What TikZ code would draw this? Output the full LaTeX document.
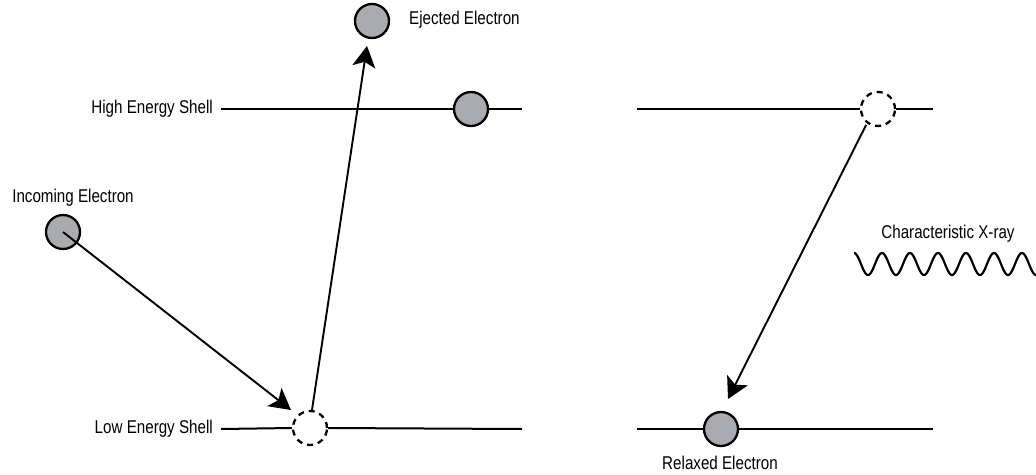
\documentclass[tikz,border=0pt]{standalone}
\usepackage{fontspec}
\setmainfont{Liberation Sans}
\newfontfamily\narrowsans[FakeStretch=0.82]{Liberation Sans}
\usetikzlibrary{arrows.meta}
\definecolor{electron}{RGB}{170,171,176}
\tikzset{
  particle/.style={circle, draw=black, line width=2.3pt, fill=electron, minimum size=34pt, inner sep=0pt},
  hole/.style={circle, draw=black, line width=2.3pt, dash pattern=on 6pt off 5pt, minimum size=34pt, inner sep=0pt},
  shell/.style={line width=2pt},
  jump/.style={line width=1.9pt, -{Stealth[length=21pt,width=23pt,inset=5pt]}},
  caption/.style={font=\narrowsans\fontsize{18.5}{22}\selectfont, inner sep=0pt},
  wave/.style={line width=2.2pt}
}
\begin{document}
\begin{tikzpicture}[x=1pt,y=-1pt]
  \useasboundingbox (0,0) rectangle (1036,474);

  % left panel: impact and ejection
  \node[particle] (incoming) at (63,232) {};
  \node[particle] (ejected) at (372,21) {};
  \node[particle] (highL) at (471,109) {};
  \node[hole] (holeL) at (310,428) {};

  \coordinate (highLstart) at (221,109);
  \coordinate (highLend) at (522,109);
  \coordinate (lowLstart) at (221,429);
  \coordinate (lowLend) at (522,429);

  \draw[shell] (highLstart) -- (highL.west);
  \draw[shell] (highL.east) -- (highLend);
  \draw[shell] (lowLstart) -- (holeL.west);
  \draw[shell] (holeL.east) -- (lowLend);

  \node[caption, anchor=east] (highLabel) at (213,109) {High Energy Shell};
  \node[caption, anchor=east] (lowLabel) at (213,429) {Low Energy Shell};
  \node[caption] (incomingLabel) at (73,198) {Incoming Electron};
  \node[caption, anchor=west] (ejectedLabel) at (409,20) {Ejected Electron};

  \coordinate (hitTip) at (291,410);
  \coordinate (ejectTip) at (367,46);
  \draw[jump] (incoming.center) -- (hitTip);
  \draw[jump] (holeL.north) ++(2,0) -- (ejectTip);

  % right panel: relaxation and emission
  \node[hole] (holeR) at (878,109) {};
  \node[particle] (relaxed) at (721,429) {};

  \coordinate (highRstart) at (637,109);
  \coordinate (highRend) at (933,109);
  \coordinate (lowRstart) at (637,429);
  \coordinate (lowRend) at (933,429);

  \draw[shell] (highRstart) -- (holeR.west);
  \draw[shell] (holeR.east) -- (highRend);
  \draw[shell] (lowRstart) -- (relaxed.west);
  \draw[shell] (relaxed.east) -- (lowRend);

  \node[caption] (relaxedLabel) at (720,463) {Relaxed Electron};
  \node[caption] (xrayLabel) at (948,234) {Characteristic X-ray};

  \coordinate (relaxTip) at (728,399);
  \draw[jump] (holeR.south west) ++(1,3) -- (relaxTip);

  % emitted photon as a sine wave, period 28
  \draw[wave] plot[domain=0:183, samples=300, smooth]
    ({854+\x}, {264 - 11*cos(\x/28*360)});
\end{tikzpicture}
\end{document}
